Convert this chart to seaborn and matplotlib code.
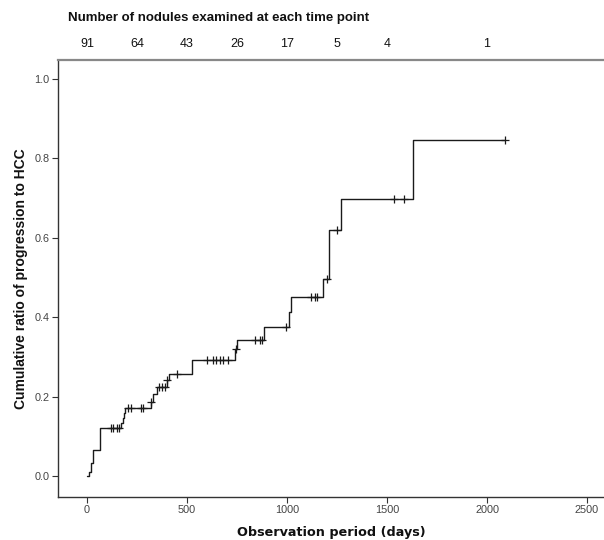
import numpy as np
import pandas as pd
import matplotlib
matplotlib.use("Agg")
import matplotlib.pyplot as plt
import matplotlib.transforms as mtransforms
import seaborn as sns

# ---- data ----
event_days = [0, 10, 18, 28, 65, 170, 178, 184, 190, 318, 330, 348, 398, 408,
              527, 738, 752, 885, 1010, 1022, 1182, 1208, 1268, 1632, 2088]
cum_ratio = [0.0, 0.011, 0.033, 0.066, 0.122, 0.134, 0.146, 0.158, 0.172, 0.187,
             0.206, 0.225, 0.242, 0.258, 0.292, 0.319, 0.342, 0.376, 0.412,
             0.450, 0.495, 0.620, 0.697, 0.847, 0.847]
censor_days = [118, 128, 150, 160, 205, 218, 272, 282, 322, 360, 375, 390, 400,
               452, 598, 632, 645, 665, 682, 707, 745, 840, 865, 873, 993,
               1120, 1140, 1148, 1198, 1248, 1535, 1587, 2088]
risk_days = [0, 250, 500, 750, 1000, 1250, 1500, 2000]
risk_counts = ["91", "64", "43", "26", "17", "5", "4", "1"]
x_ticks = [0, 500, 1000, 1500, 2000, 2500]
y_ticks = [0.0, 0.2, 0.4, 0.6, 0.8, 1.0]

curve = pd.DataFrame({"day": event_days, "ratio": cum_ratio})
idx = np.searchsorted(np.array(event_days), np.array(censor_days), side="right") - 1
censor = pd.DataFrame({"day": censor_days, "ratio": np.array(cum_ratio)[idx]})

sns.set_theme(style="white")
plt.rcParams["font.family"] = ["Liberation Sans", "DejaVu Sans"]

fig = plt.figure(figsize=(6.04, 5.40), dpi=100)
ax = fig.add_axes([58 / 604, 1 - 497 / 540, 1 - 58 / 604, (497 - 60) / 540])

sns.lineplot(data=curve, x="day", y="ratio", drawstyle="steps-post",
             estimator=None, sort=False, color="#1a1a1a", linewidth=1.0, ax=ax)
sns.scatterplot(data=censor, x="day", y="ratio", marker="+", s=30,
                color="#1a1a1a", linewidth=0.9, ax=ax, zorder=3)

ax.set_xlim(-145, 2585)
ax.set_ylim(-0.053, 1.048)
ax.set_xticks(x_ticks)
ax.set_xticklabels([str(v) for v in x_ticks])
ax.set_yticks(y_ticks)
ax.set_yticklabels([f"{v:.1f}" for v in y_ticks])
ax.tick_params(axis="both", direction="out", length=4, width=0.8,
               colors="#333333", labelsize=7.8, labelcolor="#444444",
               bottom=True, left=True, pad=2)

for s in ["left", "bottom"]:
    ax.spines[s].set_color("#333333")
    ax.spines[s].set_linewidth(1.0)
ax.spines["top"].set_color("#888888")
ax.spines["top"].set_linewidth(1.6)
ax.spines["right"].set_visible(False)

ax.set_xlabel("Observation period (days)", fontsize=9.2, fontweight="bold",
              family="DejaVu Sans", labelpad=8, color="#111111")
ax.set_ylabel("Cumulative ratio of progression to HCC", fontsize=10,
              fontweight="bold", labelpad=5, color="#111111")

fig.text(68 / 604, 1 - 18 / 540, "Number of nodules examined at each time point",
         fontsize=9.5, fontweight="bold", ha="left", va="center", color="#111111")
trans = mtransforms.blended_transform_factory(ax.transData, fig.transFigure)
for d, c in zip(risk_days, risk_counts):
    ax.text(d, 1 - 44 / 540, c, transform=trans, ha="center", va="center",
            fontsize=9, color="#111111")

fig.savefig("out.png", dpi=100)
